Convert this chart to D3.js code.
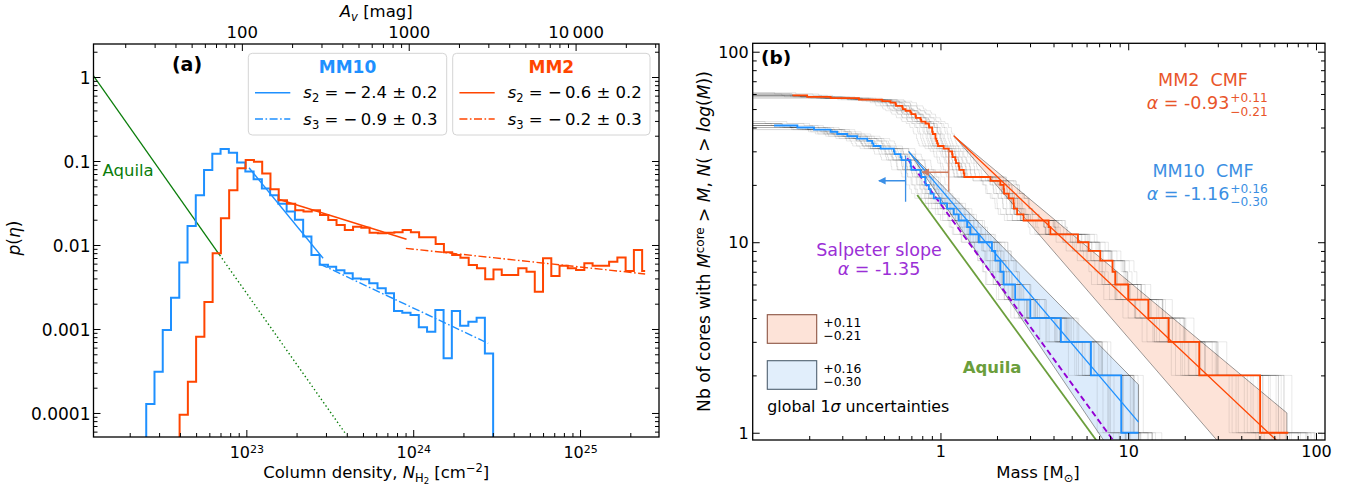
<!DOCTYPE html>
<html><head><meta charset="utf-8">
<script src="https://cdn.jsdelivr.net/npm/d3@7/dist/d3.min.js"></script>
<style>
html,body{margin:0;padding:0;background:#fff;}
svg{display:block;font-family:'DejaVu Sans',sans-serif;}
</style></head>
<body>
<svg id="chart" width="1354" height="486"></svg>
<script>
// ================= DATA : panel (a) column-density PDFs =================
const pdfBinWidth = 0.0495;                 // log10 bin width
const mm10BinStart = 22.40;                 // log10 N_H2 of first bin edge
const mm10Pdf = [1.28e-4,3.1e-4,9.7e-4,2.36e-3,6.2e-3,0.0168,0.039,0.078,0.122,0.139,0.125,0.096,0.075,0.0605,0.047,0.039,0.031,0.025,0.020,0.0126,0.0076,0.0058,0.0055,0.0050,0.0046,0.0040,0.0039,0.0035,0.00305,0.00266,0.00164,0.00156,0.00147,0.00105,0.00093,0.00168,0.000448,0.00164,0.00109,0.00122,0.00136,0.00051];
const mm2BinStart = 22.60;
const mm2Pdf = [9.5e-5,2.36e-4,8.1e-4,2.1e-3,0.008,0.0208,0.045,0.082,0.103,0.098,0.071,0.046,0.034,0.031,0.026,0.025,0.026,0.0228,0.0199,0.0173,0.0151,0.0165,0.016,0.014,0.0138,0.014,0.0142,0.0151,0.0142,0.0124,0.0124,0.0103,0.0082,0.0076,0.00706,0.00578,0.00527,0.0039,0.0051,0.0044,0.0044,0.00527,0.0048,0.00278,0.00695,0.00428,0.00567,0.00527,0.00504,0.00605,0.00567,0.00567,0.0063,0.0071,0.0049,0.0087,0.0049];
const mm2LastEdge = 25.39;
// power-law fits: [log10 N, p] end points
const mm10S2Fit = [[23.016,0.083],[23.46,0.00695]];
const mm10S3Fit = [[23.44,0.00594],[24.449,0.000676]];
const mm2S2Fit  = [[23.188,0.0353],[23.96,0.0117]];
const mm2S3Fit  = [[23.956,0.00912],[25.39,0.00452]];
const aquilaPdfSolid  = [[22.084,1.03],[22.84,0.0076]];
const aquilaPdfDotted = [[22.84,0.0076],[23.6,5.47e-5]];
const pdfYTicks = [1,0.1,0.01,0.001,0.0001];
const pdfYTickLabels = ["1","0.1","0.01","0.001","0.0001"];
const nh2XTickExponents = [23,24,25];
const avTicks = [100,1000,10000];
const avTickLabels = ["100","1000","10\u2009000"];
const nh2PerAv = 9.4e20;
const legendMM10 = ["\u2212\u20092.4 \u00b1 0.2","\u2212\u20090.9 \u00b1 0.3"];
const legendMM2  = ["\u2212\u20090.6 \u00b1 0.2","\u2212\u20090.2 \u00b1 0.3"];

// ================= DATA : panel (b) core mass functions =================
const mm2CoreMasses = [71.2,50.4,23.9,16.4,12.8,10.0,8.53,8.25,7.1,6.15,5.4,3.85,3.77,2.77,2.56,2.46,2.45,2.31,2.18,2.17,2.085,1.845,1.34,1.33,1.26,1.25,1.21,1.20,1.16,1.154,1.107,1.04,0.97,0.96,0.95,0.94,0.94,0.91,0.903,0.903,0.87,0.867,0.832,0.79,0.783,0.74,0.736,0.70,0.692,0.652,0.63,0.626,0.58,0.576,0.542,0.49,0.368,0.26,0.195];
const mm10CoreMasses = [11.35,9.18,6.33,4.38,3.01,2.5,2.17,2.085,1.96,1.88,1.6,1.44,1.387,1.25,1.177,1.085,1.0,0.921,0.885,0.867,0.832,0.83,0.79,0.783,0.70,0.695,0.692,0.62,0.613,0.57,0.565,0.48,0.44,0.433,0.408,0.36,0.319,0.282,0.26,0.212,0.173];
const mm2CurveStart = 0.163, mm10CurveStart = 0.13;
const mm2Alpha = -0.93, mm2AlphaErr = [0.11,-0.21], mm2FitPivot = [1.177,36.2], mm2FitMaxMass = 70;
const mm10Alpha = -1.16, mm10AlphaErr = [0.16,-0.30], mm10FitPivot = [0.678,29.9], mm10FitMaxMass = 11.35;
const salpeterAlpha = -1.35, salpeterStart = [0.665,27.6];
const aquilaCmfAlpha = -1.35, aquilaCmfStart = [0.752,17.7];
const mm10Completeness = [0.652,0.47], mm10CompletenessN = [16.3,28.5,21];
const mm2Completeness  = [1.107,0.80], mm2CompletenessN  = [18.4,30.5,23.3];
// Monte-Carlo realisation offsets (dex shift, dex tilt, core-count offset)
const mcShiftDex = [-0.10,-0.08,-0.065,-0.05,-0.04,-0.03,-0.02,-0.01,0,0.01,0.02,0.03,0.04,0.05,0.065,0.08,0.10,-0.025,0.025,0.0];
const mcTiltDex  = [0.03,-0.05,0.07,-0.02,0.05,-0.07,0.02,0.08,-0.04,0.06,-0.08,0.04,-0.03,0.07,-0.06,0.01,-0.05,0.09,-0.09,0.05];
const mcCoreOffset = [0,1,-1,2,0,-2,1,0,-1,1,2,0,-1,0,1,-2,0,1,-1,0];
const cmfTicks = [1,10,100];

// ================= DRAWING =================
const svg = d3.select('#chart');
const defs = svg.append('defs');
const mm2Color = '#ff4500', mm10Color = '#1e90ff';

function axisStyle(g, fs){
  g.attr('font-family',null).attr('font-size',null);
  g.select('.domain').remove();
  g.selectAll('.tick line').attr('stroke','#000').attr('stroke-width',1);
  g.selectAll('.tick text').attr('font-size',fs).attr('fill','#000');
}
function minorsFor(domain, decades){
  const out=[];
  decades.forEach(d=>{for(let k=2;k<=9;k++){const v=k*Math.pow(10,d); if(v>domain[0]&&v<domain[1]) out.push(v);}});
  return out;
}

// ---------- Panel (a) ----------
const A = {l:93.5, r:659, t:44, b:437};
const xA = d3.scaleLog().domain([Math.pow(10,22.084), Math.pow(10,25.473)]).range([A.l,A.r]);
const yA = d3.scaleLog().domain([Math.pow(10,-4.286), Math.pow(10,0.393)]).range([A.b,A.t]);
const avA = d3.scaleLog().domain(xA.domain().map(v=>v/nh2PerAv)).range([A.l,A.r]);
defs.append('clipPath').attr('id','clipA').append('rect')
  .attr('x',A.l).attr('y',A.t).attr('width',A.r-A.l).attr('height',A.b-A.t);
const gA = svg.append('g');
const pA = gA.append('g').attr('clip-path','url(#clipA)');
const floorA = yA.domain()[0];

function histPoints(start, vals, endLog, drop){
  const pts=[[Math.pow(10,start), floorA]];
  vals.forEach((v,i)=>pts.push([Math.pow(10,start+i*pdfBinWidth), v]));
  const end = endLog!=null ? endLog : start+vals.length*pdfBinWidth;
  pts.push([Math.pow(10,end), vals[vals.length-1]]);
  if(drop) pts.push([Math.pow(10,end), floorA]);
  return pts;
}
const stepA = d3.line().x(d=>xA(d[0])).y(d=>yA(d[1])).curve(d3.curveStepAfter);
const lineA = d3.line().x(d=>xA(Math.pow(10,d[0]))).y(d=>yA(d[1]));

pA.append('path').attr('d',lineA(aquilaPdfSolid)).attr('fill','none').attr('stroke','#0a7d0a').attr('stroke-width',1.3);
pA.append('path').attr('d',lineA(aquilaPdfDotted)).attr('fill','none').attr('stroke','#0a7d0a').attr('stroke-width',1.4).attr('stroke-dasharray','1.4,2.6');
pA.append('path').attr('d',stepA(histPoints(mm10BinStart,mm10Pdf,null,true))).attr('fill','none').attr('stroke',mm10Color).attr('stroke-width',2);
pA.append('path').attr('d',stepA(histPoints(mm2BinStart,mm2Pdf,mm2LastEdge,false))).attr('fill','none').attr('stroke',mm2Color).attr('stroke-width',2);
const dashDot='8,2.5,1.6,2.5';
pA.append('path').attr('d',lineA(mm10S2Fit)).attr('fill','none').attr('stroke',mm10Color).attr('stroke-width',1.4);
pA.append('path').attr('d',lineA(mm10S3Fit)).attr('fill','none').attr('stroke',mm10Color).attr('stroke-width',1.4).attr('stroke-dasharray',dashDot);
pA.append('path').attr('d',lineA(mm2S2Fit)).attr('fill','none').attr('stroke',mm2Color).attr('stroke-width',1.4);
pA.append('path').attr('d',lineA(mm2S3Fit)).attr('fill','none').attr('stroke',mm2Color).attr('stroke-width',1.4).attr('stroke-dasharray',dashDot);

// axes (a)
const xMajA = nh2XTickExponents.map(e=>Math.pow(10,e));
let g;
g = gA.append('g').attr('transform',`translate(0,${A.b})`)
  .call(d3.axisBottom(xA).tickValues(xMajA).tickSizeInner(-7).tickSizeOuter(0).tickPadding(9.5).tickFormat(()=>''));
axisStyle(g,16);
g.selectAll('.tick text').each(function(d){
  const t=d3.select(this);
  t.append('tspan').text('10');
  t.append('tspan').attr('dy','-0.48em').attr('font-size','11px').text(Math.round(Math.log10(d)));
});
g = gA.append('g').attr('transform',`translate(0,${A.b})`)
  .call(d3.axisBottom(xA).tickValues(minorsFor(xA.domain(),[22,23,24,25])).tickSizeInner(-4).tickSizeOuter(0).tickFormat(()=>''));
axisStyle(g,16);
g = gA.append('g').attr('transform',`translate(0,${A.t})`)
  .call(d3.axisTop(avA).tickValues(avTicks).tickSizeInner(-7).tickSizeOuter(0).tickPadding(6).tickFormat((d,i)=>avTickLabels[i]));
axisStyle(g,16.5);
g = gA.append('g').attr('transform',`translate(0,${A.t})`)
  .call(d3.axisTop(avA).tickValues(minorsFor(avA.domain(),[1,2,3,4])).tickSizeInner(-4).tickSizeOuter(0).tickFormat(()=>''));
axisStyle(g,16);
[[A.l,d3.axisLeft],[A.r,d3.axisRight]].forEach(([x,fn],k)=>{
  let a = gA.append('g').attr('transform',`translate(${x},0)`)
    .call(fn(yA).tickValues(pdfYTicks).tickSizeInner(-7).tickSizeOuter(0).tickPadding(3).tickFormat((d,i)=>k===0?pdfYTickLabels[i]:''));
  axisStyle(a,17);
  a.selectAll('.tick text').attr('dy','0.37em');
  a = gA.append('g').attr('transform',`translate(${x},0)`)
    .call(fn(yA).tickValues(minorsFor(yA.domain(),[-5,-4,-3,-2,-1,0])).tickSizeInner(-4).tickSizeOuter(0).tickFormat(()=>''));
  axisStyle(a,17);
});
gA.append('rect').attr('x',A.l).attr('y',A.t).attr('width',A.r-A.l).attr('height',A.b-A.t)
  .attr('fill','none').attr('stroke','#000').attr('stroke-width',1.3);

// labels (a)
let t;
t = gA.append('text').attr('x',(A.l+A.r)/2).attr('y',477.5).attr('text-anchor','middle').attr('font-size',16.5);
t.append('tspan').text('Column density, ');
t.append('tspan').attr('font-style','italic').text('N');
t.append('tspan').attr('dy',4).attr('font-size',11.5).text('H');
t.append('tspan').attr('dy',2).attr('font-size',8.5).text('2');
t.append('tspan').attr('dy',-6).text(' [cm');
t.append('tspan').attr('dy',-6).attr('font-size',11.5).text('\u22122');
t.append('tspan').attr('dy',6).text(']');
t = gA.append('text').attr('x',(A.l+A.r)/2).attr('y',17).attr('text-anchor','middle').attr('font-size',16.5);
t.append('tspan').attr('font-style','italic').text('A');
t.append('tspan').attr('font-style','italic').attr('dy',4).attr('font-size',11.5).text('v');
t.append('tspan').attr('dy',-4).text(' [mag]');
t = gA.append('text').attr('transform','translate(20,238) rotate(-90)').attr('text-anchor','middle').attr('font-size',17);
t.append('tspan').attr('font-style','italic').text('p');
t.append('tspan').text('(');
t.append('tspan').attr('font-style','italic').text('\u03b7');
t.append('tspan').text(')');
gA.append('text').attr('x',187).attr('y',71).attr('text-anchor','middle').attr('font-size',19).attr('font-weight','bold').text('(a)');
gA.append('text').attr('x',102.5).attr('y',175.5).attr('font-size',16.5).attr('fill','#0a7d0a').text('Aquila');

// legend (a)
function legendBox(x0,w,title,color,vals){
  gA.append('rect').attr('x',x0).attr('y',53.3).attr('width',w).attr('height',81.7).attr('rx',4)
    .attr('fill','#fff').attr('fill-opacity',0.85).attr('stroke','#d4d4d4').attr('stroke-width',1);
  gA.append('text').attr('x',x0+w/2).attr('y',73.3).attr('text-anchor','middle').attr('font-size',17)
    .attr('font-weight','bold').attr('fill',color).text(title);
  [92.7,119].forEach((y,i)=>{
    gA.append('line').attr('x1',x0+6.7).attr('x2',x0+42).attr('y1',y).attr('y2',y)
      .attr('stroke',color).attr('stroke-width',1.4).attr('stroke-dasharray',i?dashDot:null);
    const tt=gA.append('text').attr('x',x0+55).attr('y',y+5.6).attr('font-size',16.5);
    tt.append('tspan').attr('font-style','italic').text('s');
    tt.append('tspan').attr('dy',4).attr('font-size',11.5).text(i?'3':'2');
    tt.append('tspan').attr('dy',-4).text(' = '+vals[i]);
  });
}
legendBox(248.3,198.4,'MM10',mm10Color,legendMM10);
legendBox(452.7,197.3,'MM2',mm2Color,legendMM2);

// ---------- Panel (b) ----------
const B = {l:752.7, r:1325, t:43.3, b:440};
const xB = d3.scaleLog().domain([0.1,111.7]).range([B.l,B.r]);
const yB = d3.scaleLog().domain([0.916,110.7]).range([B.b,B.t]);
defs.append('clipPath').attr('id','clipB').append('rect')
  .attr('x',B.l).attr('y',B.t).attr('width',B.r-B.l).attr('height',B.b-B.t);
const gB = svg.append('g');
const pB = gB.append('g').attr('clip-path','url(#clipB)');
const yBs = n => n>0 ? yB(n) : B.b+30;
const stepB = d3.line().x(d=>xB(d[0])).y(d=>yBs(d[1])).curve(d3.curveStepAfter);
const lineB = d3.line().x(d=>xB(d[0])).y(d=>yB(d[1]));
const plaw = (piv,a,m)=>piv[1]*Math.pow(m/piv[0],a);

// uncertainty bands
function band(piv,alpha,err,mMax,fill){
  const up=alpha+err[0], lo=alpha+err[1];
  const pts=[piv,[mMax,plaw(piv,up,mMax)],[mMax,plaw(piv,lo,mMax)]];
  pB.append('path').attr('d',lineB(pts)+'Z').attr('fill',fill).attr('stroke','#5a5a5a').attr('stroke-opacity',0.75).attr('stroke-width',0.8);
}
band(mm2FitPivot,mm2Alpha,mm2AlphaErr,mm2FitMaxMass,'#fde3d8');
band(mm10FitPivot,mm10Alpha,mm10AlphaErr,mm10FitMaxMass,'#dcebfb');

// grey realisations
function cmfPoints(masses,start,finalDrop){
  const asc=masses.slice().sort((a,b)=>a-b), n=asc.length;
  const pts=[[start,n]];
  asc.forEach((m,j)=>pts.push([m,n-1-j]));
  if(!finalDrop) pts[pts.length-1][1]=1;
  return pts;
}
function realisations(masses){
  mcShiftDex.forEach((s,i)=>{
    let ms = masses.map(m=>m*Math.pow(10,s+mcTiltDex[i]*Math.log10(m))).sort((a,b)=>a-b);
    const off=mcCoreOffset[i];
    if(off<0) ms=ms.slice(-off);
    for(let k=1;k<=off;k++) ms.unshift(ms[0]*Math.pow(0.9,k));
    pB.append('path').attr('d',stepB(cmfPoints(ms,0.1,true))).attr('fill','none')
      .attr('stroke','#000').attr('stroke-opacity',0.09).attr('stroke-width',1);
  });
}
realisations(mm2CoreMasses);
realisations(mm10CoreMasses);

// fits and reference slopes
function fitLine(piv,a,mMax,color,w,dash){
  pB.append('path').attr('d',lineB([piv,[mMax,plaw(piv,a,mMax)]])).attr('fill','none')
    .attr('stroke',color).attr('stroke-width',w).attr('stroke-dasharray',dash||null);
}
fitLine(mm2FitPivot,mm2Alpha,mm2FitMaxMass,mm2Color,1.3);
fitLine(mm10FitPivot,mm10Alpha,mm10FitMaxMass,mm10Color,1.3);
fitLine(aquilaCmfStart,aquilaCmfAlpha,20,'#6b9e3c',1.8);
fitLine(salpeterStart,salpeterAlpha,20,'#9400d3',1.9,'6,3.5');

// main CMFs
pB.append('path').attr('d',stepB(cmfPoints(mm10CoreMasses,mm10CurveStart,false))).attr('fill','none').attr('stroke',mm10Color).attr('stroke-width',1.8);
pB.append('path').attr('d',stepB(cmfPoints(mm2CoreMasses,mm2CurveStart,false))).attr('fill','none').attr('stroke',mm2Color).attr('stroke-width',1.8);

// completeness arrows (arrowhead points to lower masses)
function arrow(c,nr,color,id){
  const mk=defs.append('marker').attr('id',id).attr('viewBox','0 0 10 10').attr('refX',9).attr('refY',5)
    .attr('markerWidth',5).attr('markerHeight',5).attr('orient','auto');
  mk.append('path').attr('d','M0,0 L10,5 L0,10 z').attr('fill',color);
  pB.append('line').attr('x1',xB(c[0])).attr('x2',xB(c[0])).attr('y1',yB(nr[0])).attr('y2',yB(nr[1]))
    .attr('stroke',color).attr('stroke-width',1.3);
  pB.append('line').attr('x1',xB(c[0])).attr('x2',xB(c[1])).attr('y1',yB(nr[2])).attr('y2',yB(nr[2]))
    .attr('stroke',color).attr('stroke-width',1.5).attr('marker-end',`url(#${id})`);
}
arrow(mm10Completeness,mm10CompletenessN,'#3b8fe6','arrB');
arrow(mm2Completeness,mm2CompletenessN,'#cf7d60','arrR');

// axes (b)
const minB = minorsFor(xB.domain(),[-1,0,1,2]);
const minBy = minorsFor(yB.domain(),[-1,0,1,2]);
[[B.b,d3.axisBottom,true],[B.t,d3.axisTop,false]].forEach(([y,fn,lab])=>{
  let a=gB.append('g').attr('transform',`translate(0,${y})`)
    .call(fn(xB).tickValues(cmfTicks).tickSizeInner(-7).tickSizeOuter(0).tickPadding(6).tickFormat(d=>lab?String(d):''));
  axisStyle(a,16);
  a=gB.append('g').attr('transform',`translate(0,${y})`)
    .call(fn(xB).tickValues(minB).tickSizeInner(-4).tickSizeOuter(0).tickFormat(()=>''));
  axisStyle(a,16);
});
[[B.l,d3.axisLeft,true],[B.r,d3.axisRight,false]].forEach(([x,fn,lab])=>{
  let a=gB.append('g').attr('transform',`translate(${x},0)`)
    .call(fn(yB).tickValues(cmfTicks).tickSizeInner(-7).tickSizeOuter(0).tickPadding(4).tickFormat(d=>lab?String(d):''));
  axisStyle(a,16);
  a.selectAll('.tick text').attr('dy','0.36em');
  a=gB.append('g').attr('transform',`translate(${x},0)`)
    .call(fn(yB).tickValues(minBy).tickSizeInner(-4).tickSizeOuter(0).tickFormat(()=>''));
  axisStyle(a,16);
});
gB.append('rect').attr('x',B.l).attr('y',B.t).attr('width',B.r-B.l).attr('height',B.b-B.t)
  .attr('fill','none').attr('stroke','#000').attr('stroke-width',1.3);

// labels (b)
t = gB.append('text').attr('x',1038).attr('y',478).attr('text-anchor','middle').attr('font-size',16.5);
t.append('tspan').text('Mass [M');
t.append('tspan').attr('dy',4).attr('font-size',11.5).text('\u2299');
t.append('tspan').attr('dy',-4).text(']');
t = gB.append('text').attr('transform','translate(710,241.5) rotate(-90)').attr('text-anchor','middle').attr('font-size',16);
t.append('tspan').text('Nb of cores with ');
t.append('tspan').attr('font-style','italic').text('M');
t.append('tspan').attr('class','sup').attr('dy',-6.5).attr('font-size',11.2).text('core');
t.append('tspan').attr('dy',6.5).text(' > ');
t.append('tspan').attr('font-style','italic').text('M');
t.append('tspan').text(', ');
t.append('tspan').attr('font-style','italic').text('N');
t.append('tspan').text('( > ');
t.append('tspan').attr('font-style','italic').text('log');
t.append('tspan').text('(');
t.append('tspan').attr('font-style','italic').text('M');
t.append('tspan').text('))');
{ // fit the rotated label to the reference span (~341 px)
  const len = t.node().getComputedTextLength();
  const fs = 16*341/len;
  t.attr('font-size',fs);
  t.select('.sup').attr('font-size',fs*0.7);
}
gB.append('text').attr('x',761).attr('y',64).attr('font-size',18.5).attr('font-weight','bold')
  .attr('stroke','#fff').attr('stroke-width',3).attr('paint-order','stroke').text('(b)');

function alphaLabel(x,y,main,sup,sub,color){
  const tt=gB.append('text').attr('x',x).attr('y',y).attr('font-size',17.5).attr('fill',color);
  tt.append('tspan').attr('font-style','italic').text('\u03b1');
  tt.append('tspan').text(' = '+main);
  const w=tt.node().getComputedTextLength();
  gB.append('text').attr('x',x+w+1).attr('y',y-7.5).attr('font-size',12.2).attr('fill',color).text(sup);
  gB.append('text').attr('x',x+w+1).attr('y',y+6.2).attr('font-size',12.2).attr('fill',color).text(sub);
}
gB.append('text').attr('x',1203).attr('y',85.7).attr('text-anchor','middle').attr('font-size',17.5).attr('fill','#e9552a').attr('xml:space','preserve').text('MM2  CMF');
alphaLabel(1146.7,109.3,String(mm2Alpha.toFixed(2)),'+'+mm2AlphaErr[0].toFixed(2),'\u2212'+Math.abs(mm2AlphaErr[1]).toFixed(2),'#e9552a');
gB.append('text').attr('x',1203).attr('y',176.7).attr('text-anchor','middle').attr('font-size',17.5).attr('fill','#3b8fe3').attr('xml:space','preserve').text('MM10  CMF');
alphaLabel(1146.7,200,String(mm10Alpha.toFixed(2)),'+'+mm10AlphaErr[0].toFixed(2),'\u2212'+Math.abs(mm10AlphaErr[1]).toFixed(2),'#3b8fe3');
gB.append('text').attr('x',879).attr('y',256).attr('text-anchor','middle').attr('font-size',17.5).attr('fill','#9b2fd6').text('Salpeter slope');
t = gB.append('text').attr('x',879).attr('y',275).attr('text-anchor','middle').attr('font-size',17.5).attr('fill','#9b2fd6');
t.append('tspan').attr('font-style','italic').text('\u03b1');
t.append('tspan').text(' = '+salpeterAlpha.toFixed(2));
gB.append('text').attr('x',962.7).attr('y',373.3).attr('font-size',16.5).attr('font-weight','bold').attr('fill','#6b9e3c').text('Aquila');

// uncertainty legend (b)
[[314.7,'#fde3d8','#8c5442',mm2AlphaErr],[360.7,'#e1eefb','#4f6070',mm10AlphaErr]].forEach(([y,f,s,e])=>{
  gB.append('rect').attr('x',767.3).attr('y',y).attr('width',49.4).attr('height',28.6).attr('fill',f).attr('stroke',s).attr('stroke-width',1.1);
  gB.append('text').attr('x',823.3).attr('y',y+12.3).attr('font-size',12.4).text('+'+e[0].toFixed(2));
  gB.append('text').attr('x',823.3).attr('y',y+25.2).attr('font-size',12.4).text('\u2212'+Math.abs(e[1]).toFixed(2));
});
t = gB.append('text').attr('x',767.3).attr('y',411.7).attr('font-size',15.8);
t.append('tspan').text('global 1');
t.append('tspan').attr('font-style','italic').text('\u03c3');
t.append('tspan').text(' uncertainties');
</script>
</body></html>
